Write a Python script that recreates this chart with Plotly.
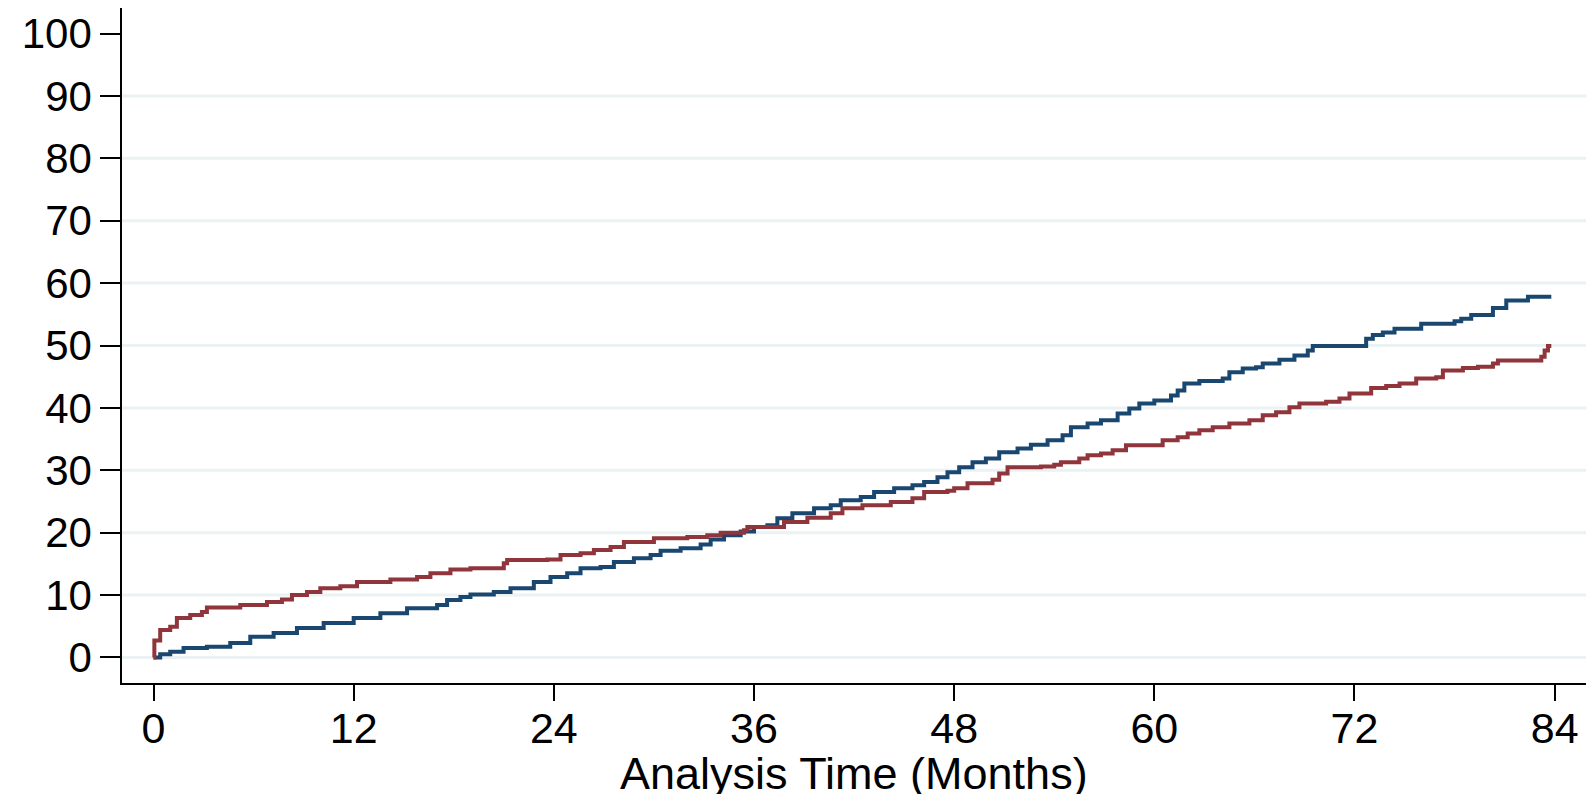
import plotly.graph_objects as go

# ---- data ----
blue_t = [0, 0.4, 1, 1.8, 3.2, 4.6, 5.8, 7.2, 8.6, 10.2, 12, 13.6, 15.2, 17, 17.6, 18.4, 19,
          20.4, 21.4, 22.8, 23.8, 24.8, 25.6, 26.8, 27.6, 28.8, 29.8, 30.4, 31.6, 32.8, 33.4,
          34.2, 35.2, 36, 36.8, 37.4, 38.3, 39.6, 40.6, 41.2, 42.4, 43.2, 44.4, 45.5, 46.2,
          47, 47.6, 48.3, 49.1, 49.9, 50.7, 51.8, 52.6, 53.6, 54.5, 55, 56, 56.8, 57.8, 58.5,
          59.1, 60, 61, 61.4, 61.8, 62.7, 64.1, 64.5, 65.3, 66.1, 66.5, 67.5, 68.4, 69.2,
          69.5, 72.7, 73.1, 73.7, 74.4, 76, 78, 78.4, 79, 80.3, 81.1, 82.4, 83.8]
blue_v = [0, 0.5, 0.9, 1.5, 1.7, 2.3, 3.3, 3.9, 4.7, 5.5, 6.3, 7.1, 7.9, 8.4, 9.2, 9.7, 10.1,
          10.5, 11.1, 12.1, 12.9, 13.5, 14.3, 14.5, 15.3, 15.9, 16.4, 17.1, 17.5, 18.1, 18.9,
          19.6, 20.2, 20.9, 21.2, 22.3, 23.1, 23.9, 24.4, 25.2, 25.7, 26.5, 27.1, 27.6, 28.1,
          28.9, 29.7, 30.5, 31.3, 31.9, 32.9, 33.5, 34.1, 34.8, 35.6, 36.9, 37.5, 38.0, 39.1, 39.9,
          40.7, 41.2, 42.0, 42.8, 43.9, 44.3, 44.7, 45.7, 46.3, 46.5, 47.1, 47.7, 48.4, 49.2,
          49.9, 51.1, 51.7, 52.1, 52.7, 53.5, 53.9, 54.3, 54.9, 56.0, 57.2, 57.8, 57.8]

red_t = [0, 0.05, 0.4, 1, 1.4, 2.2, 2.9, 3.2, 5.2, 6.8, 7.7, 8.3, 9.2, 10, 11.2, 12.2, 14.2,
         15.8, 16.6, 17.8, 19, 21, 21.2, 23.6, 24.4, 25.6, 26.4, 27.4, 28.2, 30, 32, 33.2, 34,
         35.4, 35.6, 37.8, 39.2, 40.6, 41.3, 42.5, 44.2, 45.5, 46.2, 47.6, 48, 48.8, 50.3,
         50.7, 51.2, 53.2, 54, 54.4, 55.5, 56, 56.8, 57.5, 58.3, 60.5, 61.4, 62, 62.7, 63.5,
         64.5, 65.7, 66.5, 67.3, 68.1, 68.7, 70.3, 71.1, 71.7, 73, 73.9, 74.7, 75.7, 76.9,
         77.3, 78.5, 79.4, 80.3, 80.6, 83.2, 83.4, 83.6, 83.8]
red_v = [0, 2.7, 4.4, 4.9, 6.3, 6.8, 7.3, 8.0, 8.4, 8.9, 9.3, 10.0, 10.5, 11.1, 11.4, 12.1, 12.5,
         12.9, 13.5, 14.1, 14.3, 15.1, 15.6, 15.7, 16.4, 16.7, 17.2, 17.7, 18.5, 19.1, 19.3, 19.6, 20.0,
         20.4, 20.9, 21.7, 22.4, 23.1, 23.9, 24.4, 24.9, 25.5, 26.5, 26.7, 27.1, 27.9, 28.5,
         29.5, 30.5, 30.6, 30.9, 31.3, 31.9, 32.4, 32.7, 33.2, 34.0, 34.8, 35.3, 35.9, 36.4, 36.9,
         37.5, 38.0, 38.8, 39.3, 40.1, 40.7, 41.0, 41.5, 42.3, 43.2, 43.5, 43.9, 44.7, 44.9,
         46.0, 46.4, 46.6, 47.1, 47.6, 48.2, 49.2, 49.9, 49.9]

x_ticks = [0, 12, 24, 36, 48, 60, 72, 84]
y_ticks = [0, 10, 20, 30, 40, 50, 60, 70, 80, 90, 100]
grid_vals = [0, 10, 20, 30, 40, 50, 60, 70, 80, 90]
x_title = "Analysis Time (Months)"

FONT = "Liberation Sans, Arial, sans-serif"

fig = go.Figure()
fig.add_trace(go.Scatter(x=blue_t, y=blue_v, mode="lines", line=dict(color="#1a476f", width=4, shape="hv"),
                         showlegend=False))
fig.add_trace(go.Scatter(x=red_t, y=red_v, mode="lines", line=dict(color="#90353b", width=4, shape="hv"),
                         showlegend=False))

for g in grid_vals:
    fig.add_shape(type="line", xref="paper", x0=0, x1=1, yref="y", y0=g, y1=g,
                  line=dict(color="#eaf2f3", width=3), layer="below")

fig.add_annotation(text=x_title, xref="paper", x=0.5, yref="paper", y=-0.0933,
                   xanchor="center", yanchor="top", showarrow=False,
                   font=dict(family=FONT, size=45, color="black"))

fig.update_layout(
    width=1594, height=794,
    margin=dict(l=114, r=16, t=0, b=119),
    paper_bgcolor="white", plot_bgcolor="white",
    font=dict(family=FONT, color="black", size=42),
    xaxis=dict(range=[-1.89, 85.88], tickvals=x_ticks, ticks="outside", ticklen=16, tickwidth=1.5,
               tickcolor="black", showline=True, linecolor="black", linewidth=1.5, showgrid=False,
               zeroline=False, tickfont=dict(size=43), automargin=False, ticklabelstandoff=-9),
    yaxis=dict(range=[-4.1, 104.1], tickvals=y_ticks, ticks="outside", ticklen=20, tickwidth=1.5,
               tickcolor="black", showline=True, linecolor="black", linewidth=1.5, showgrid=False,
               zeroline=False, tickfont=dict(size=42), automargin=False),
)

fig.write_html("out.html")
